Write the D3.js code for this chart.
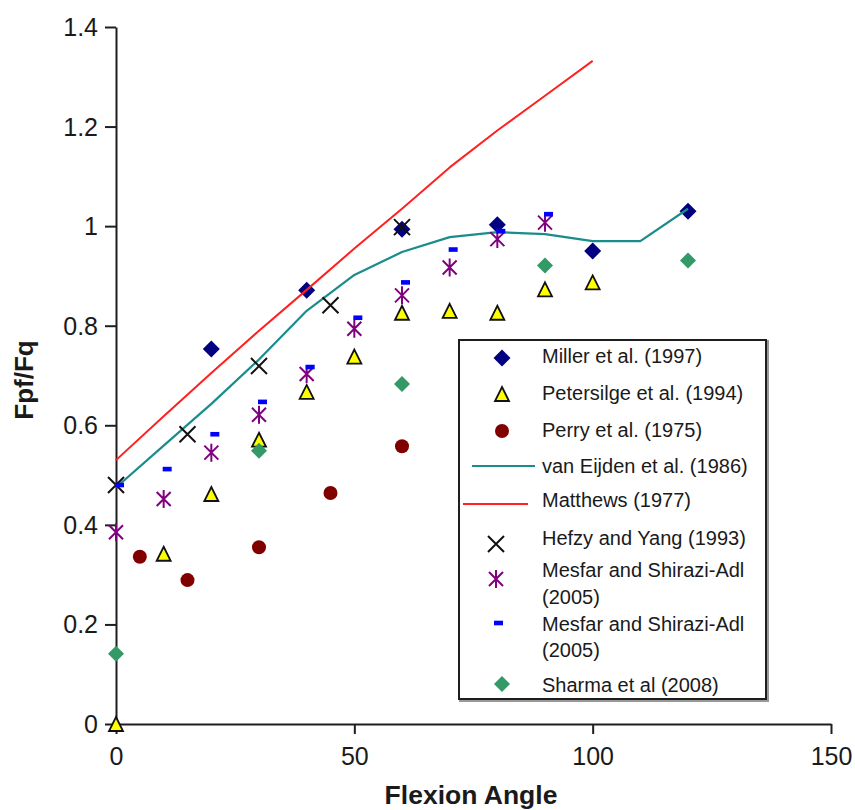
<!DOCTYPE html>
<html>
<head>
<meta charset="utf-8">
<script src="https://cdn.jsdelivr.net/npm/d3@7"></script>
<style>
  html, body { margin: 0; padding: 0; background: #fff; }
  svg { display: block; font-family: "Liberation Sans", Arial, sans-serif; }
</style>
</head>
<body>
<svg id="chart" width="855" height="810"></svg>
<script>
// Patellofemoral force ratio vs knee flexion angle, several published studies.
const miller      = [[20, 0.753], [40, 0.871], [60, 0.994], [80, 1.003], [100, 0.950], [120, 1.030]];
const petersilge  = [[0, 0.0], [10, 0.342], [20, 0.462], [30, 0.571], [40, 0.667], [50, 0.738],
                     [60, 0.826], [70, 0.830], [80, 0.826], [90, 0.873], [100, 0.887]];
const perry       = [[5, 0.336], [15, 0.289], [30, 0.355], [45, 0.464], [60, 0.558]];
const vanEijden   = [[0, 0.475], [10, 0.559], [20, 0.643], [30, 0.732], [40, 0.830], [50, 0.902],
                     [60, 0.948], [70, 0.978], [80, 0.988], [90, 0.984], [100, 0.970], [110, 0.970], [120, 1.035]];
const matthews    = [[0, 0.530], [10, 0.618], [20, 0.705], [30, 0.790], [40, 0.872], [50, 0.955],
                     [60, 1.035], [70, 1.118], [80, 1.192], [90, 1.262], [100, 1.332]];
const hefzy       = [[0, 0.480], [15, 0.582], [30, 0.719], [45, 0.841], [60, 0.998]];
const mesfarStar  = [[0, 0.385], [10, 0.452], [20, 0.545], [30, 0.621], [40, 0.703], [50, 0.794],
                     [60, 0.861], [70, 0.917], [80, 0.974], [90, 1.007]];
const mesfarDash  = [[0, 0.480], [10, 0.512], [20, 0.582], [30, 0.647], [40, 0.717], [50, 0.816],
                     [60, 0.887], [70, 0.953], [80, 0.990], [90, 1.024]];
const sharma      = [[0, 0.141], [30, 0.549], [60, 0.683], [90, 0.921], [120, 0.931]];

const xTicks = [0, 50, 100, 150];
const yTicks = [0, 0.2, 0.4, 0.6, 0.8, 1, 1.2, 1.4];
const yTickLabels = ["0", "0.2", "0.4", "0.6", "0.8", "1", "1.2", "1.4"];
const xTitle = "Flexion Angle";
const yTitle = "Fpf/Fq";

const legendLabels = [
  ["Miller et al. (1997)"],
  ["Petersilge et al. (1994)"],
  ["Perry et al. (1975)"],
  ["van Eijden et al. (1986)"],
  ["Matthews (1977)"],
  ["Hefzy and Yang (1993)"],
  ["Mesfar and Shirazi-Adl", "(2005)"],
  ["Mesfar and Shirazi-Adl", "(2005)"],
  ["Sharma et al (2008)"]
];

const svg = d3.select("#chart");
const x = d3.scaleLinear().domain([0, 150]).range([116, 831]);
const y = d3.scaleLinear().domain([0, 1.4]).range([724, 27]);

// Axes
const axisColor = "#1e1e1e";
const gx = svg.append("g").attr("transform", `translate(0,${y(0)})`)
  .call(d3.axisBottom(x).tickValues(xTicks).tickSize(10).tickSizeOuter(0).tickPadding(13));
const gy = svg.append("g").attr("transform", `translate(${x(0)},0)`)
  .call(d3.axisLeft(y).tickValues(yTicks).tickFormat((d, i) => yTickLabels[i])
        .tickSize(11).tickSizeOuter(0).tickPadding(7));
[gx, gy].forEach(g => {
  g.selectAll("path.domain").attr("stroke", axisColor).attr("stroke-width", 2);
  g.selectAll(".tick line").attr("stroke", axisColor).attr("stroke-width", 2);
  g.selectAll(".tick text").attr("fill", "#1a1a1a").attr("font-size", 25)
    .attr("font-family", "Liberation Sans, Arial, sans-serif");
});
gy.selectAll(".tick text").attr("dy", "0.34em");

svg.append("text").attr("x", 471).attr("y", 804).attr("text-anchor", "middle")
  .attr("font-size", 26.5).attr("font-weight", "bold").attr("fill", "#1a1a1a").text(xTitle);
svg.append("text").attr("transform", `translate(33,380) rotate(-90)`).attr("text-anchor", "middle")
  .attr("font-size", 26).attr("font-weight", "bold").attr("fill", "#1a1a1a").text(yTitle);

// Marker shapes
const markers = {
  diamondNavy: g => g.append("path").attr("d", "M0,-8.5L8.5,0L0,8.5L-8.5,0Z").attr("fill", "#000080"),
  triangle: g => g.append("path").attr("d", "M0,-7L7,7L-7,7Z").attr("fill", "#ffff00")
                  .attr("stroke", "#111").attr("stroke-width", 1.8).attr("stroke-linejoin", "miter"),
  circle: g => g.append("circle").attr("r", 7).attr("fill", "#800000"),
  cross: g => g.append("path").attr("d", "M-8,-8L8,8M8,-8L-8,8").attr("stroke", "#111")
                .attr("stroke-width", 2).attr("fill", "none"),
  star: g => g.append("path").attr("d", "M-7,-7L7,7M7,-7L-7,7M0,-9L0,9")
               .attr("stroke", "#800080").attr("stroke-width", 2).attr("fill", "none"),
  dash: g => g.append("rect").attr("x", -1).attr("y", -2.3).attr("width", 9).attr("height", 4.6).attr("fill", "#0000ff"),
  diamondGreen: g => g.append("path").attr("d", "M0,-8L8,0L0,8L-8,0Z").attr("fill", "#339966")
};

function drawPoints(data, shape) {
  const g = svg.append("g");
  data.forEach(d => {
    const m = g.append("g").attr("transform", `translate(${x(d[0])},${y(d[1])})`);
    markers[shape](m);
  });
}
function drawLine(data, color, width) {
  svg.append("path").datum(data)
    .attr("d", d3.line().x(d => x(d[0])).y(d => y(d[1])))
    .attr("fill", "none").attr("stroke", color).attr("stroke-width", width)
    .attr("stroke-linejoin", "round");
}

drawPoints(miller, "diamondNavy");
drawPoints(petersilge, "triangle");
drawPoints(perry, "circle");
drawLine(vanEijden, "#1a8c8c", 2.2);
drawLine(matthews, "#ff2020", 2);
drawPoints(hefzy, "cross");
drawPoints(mesfarStar, "star");
drawPoints(mesfarDash, "dash");
drawPoints(sharma, "diamondGreen");

// Legend
const lg = svg.append("g");
lg.append("rect").attr("x", 460).attr("y", 341).attr("width", 308).attr("height", 360)
  .attr("fill", "none").attr("stroke", "#999").attr("stroke-width", 2);
lg.append("rect").attr("x", 459).attr("y", 340).attr("width", 307).attr("height", 359)
  .attr("fill", "#fff").attr("stroke", "#1e1e1e").attr("stroke-width", 2);

const legendItems = [
  { kind: "diamondNavy", cy: 358, ty: [356] },
  { kind: "triangle",    cy: 394, ty: [393] },
  { kind: "circle",      cy: 431, ty: [430] },
  { kind: "lineTeal",    cy: 466, ty: [466] },
  { kind: "lineRed",     cy: 504, ty: [500] },
  { kind: "cross",       cy: 544, ty: [538] },
  { kind: "star",        cy: 579, ty: [570, 597] },
  { kind: "dash",        cy: 623, ty: [624, 650] },
  { kind: "diamondGreen",cy: 684, ty: [685] }
];
legendItems.forEach((it, i) => {
  if (it.kind === "lineTeal") {
    lg.append("line").attr("x1", 472).attr("x2", 535).attr("y1", it.cy).attr("y2", it.cy)
      .attr("stroke", "#1a8c8c").attr("stroke-width", 2.2);
  } else if (it.kind === "lineRed") {
    lg.append("line").attr("x1", 463).attr("x2", 528).attr("y1", it.cy).attr("y2", it.cy)
      .attr("stroke", "#ff2020").attr("stroke-width", 2);
  } else {
    const cx = (it.kind === "cross" || it.kind === "star") ? 496 : (it.kind === "dash" ? 495 : 502);
    const m = lg.append("g").attr("transform", `translate(${cx},${it.cy})`);
    markers[it.kind](m);
  }
  legendLabels[i].forEach((line, j) => {
    lg.append("text").attr("x", 542).attr("y", it.ty[j]).attr("dy", "0.35em")
      .attr("font-size", 20).attr("fill", "#1a1a1a").text(line);
  });
});
</script>
</body>
</html>
